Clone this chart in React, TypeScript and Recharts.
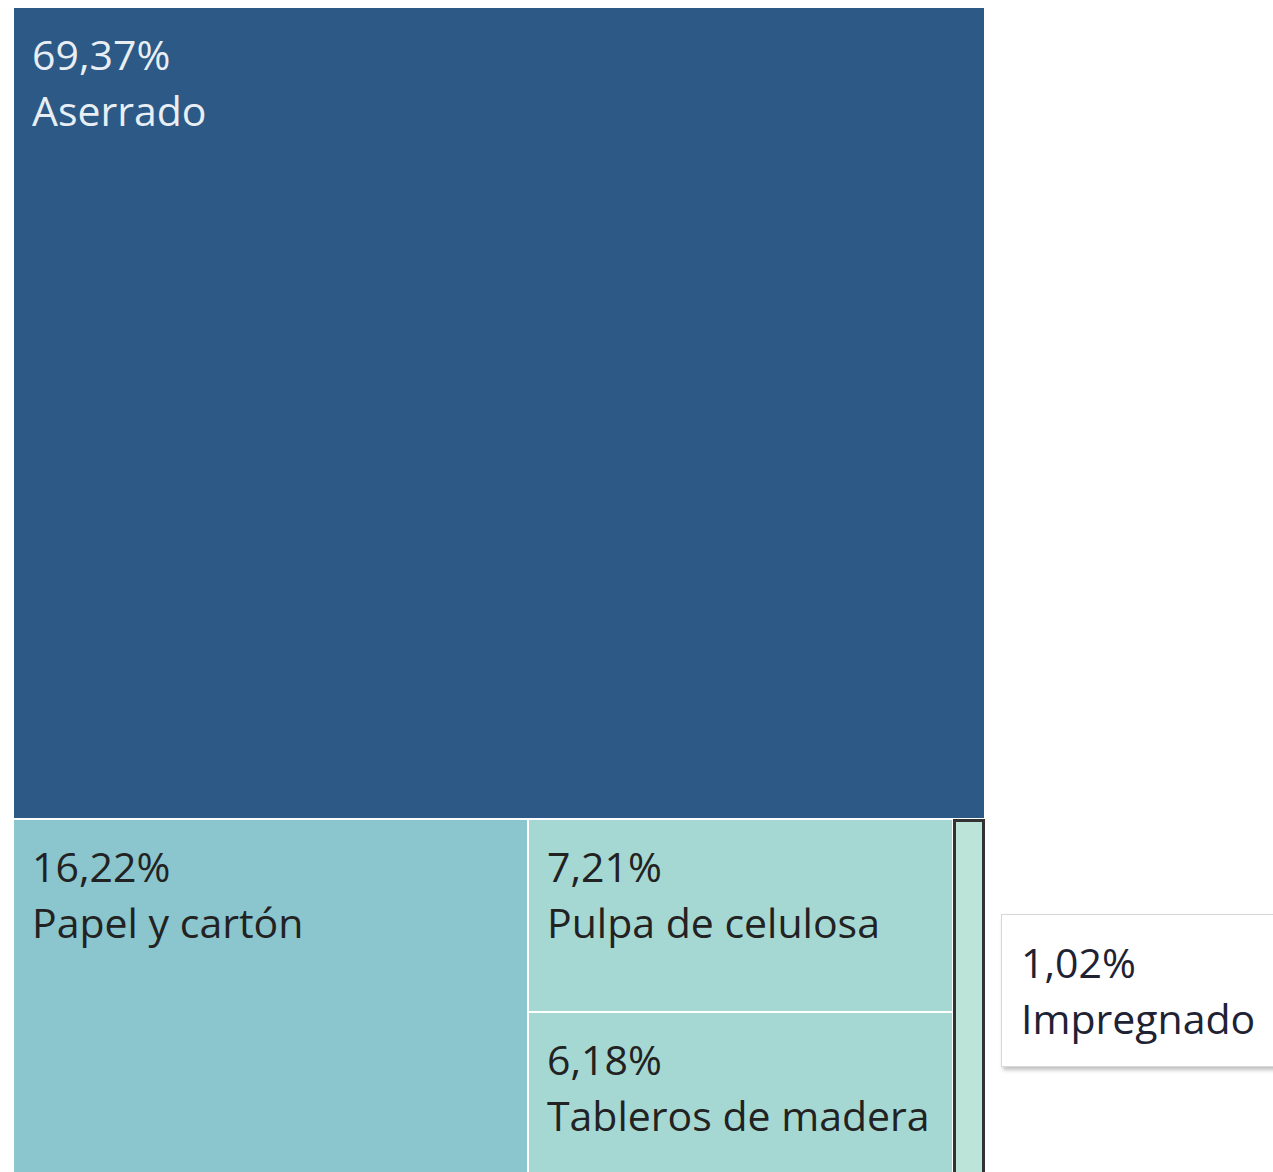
import React from "react";
import { Treemap } from "recharts";

/* ── Data ─────────────────────────────────────────────────────── */

const CATEGORIES = [
  "Aserrado",
  "Papel y cartón",
  "Pulpa de celulosa",
  "Tableros de madera",
  "Impregnado",
];
const SHARES = [69.37, 16.22, 7.21, 6.18, 1.02];

const HOVERED = "Impregnado";

/* ── Styles ───────────────────────────────────────────────────── */

const FILLS: Record<string, string> = {
  Aserrado: "#2c5985",
  "Papel y cartón": "#8bc5cd",
  "Pulpa de celulosa": "#a6d8d3",
  "Tableros de madera": "#a6d8d3",
  Impregnado: "#bde4d9",
};

const FONT = "'Open Sans', 'Noto Sans', sans-serif";
const FONT_SIZE = 41;

const fmt = (v: number) => v.toFixed(2).replace(".", ",") + "%";

const treeData = CATEGORIES.map((name, i) => ({ name, value: SHARES[i] }));

/* ── Cell renderer ────────────────────────────────────────────── */

function Cell(props: any) {
  const { x, y, width, height, name, value, depth } = props;
  if (depth !== 1) return null;
  const hovered = name === HOVERED;
  const textColor = name === "Aserrado" ? "#e8eef4" : "#222222";
  return (
    <g>
      <rect
        x={x}
        y={y}
        width={width}
        height={height}
        fill={FILLS[name] || "#999"}
        stroke="#ffffff"
        strokeWidth={2}
      />
      {hovered && (
        <rect
          x={x + 1.5}
          y={y + 1.5}
          width={width - 3}
          height={height - 3}
          fill="none"
          stroke="#333333"
          strokeWidth={3}
        />
      )}
      {width > 100 && (
        <text
          x={x + 19}
          y={y + 63}
          fill={textColor}
          fontFamily={FONT}
          fontSize={FONT_SIZE}
        >
          <tspan x={x + 19}>{fmt(value)}</tspan>
          <tspan x={x + 19} dy={56}>
            {name}
          </tspan>
        </text>
      )}
    </g>
  );
}

/* ── App ──────────────────────────────────────────────────────── */

export default function App() {
  const hoveredValue = SHARES[CATEGORIES.indexOf(HOVERED)];
  return (
    <div
      style={{
        position: "absolute",
        left: 0,
        top: 0,
        width: 1273,
        height: 1172,
        overflow: "hidden",
        background: "#fff",
      }}
    >
      <div style={{ position: "absolute", left: 13, top: 7 }}>
        <Treemap
          width={972}
          height={1170}
          data={treeData}
          dataKey="value"
          nameKey="name"
          isAnimationActive={false}
          content={<Cell />}
        />
      </div>

      {/* static hover tooltip */}
      <div
        style={{
          position: "absolute",
          left: 1001,
          top: 914,
          width: 300,
          height: 153,
          boxSizing: "border-box",
          background: "#fff",
          border: "1px solid #d8d8d8",
          boxShadow: "2px 3px 4px rgba(0,0,0,0.25)",
          padding: "19px 0 0 19px",
          fontFamily: FONT,
          fontSize: FONT_SIZE,
          lineHeight: "56px",
          color: "#1e2233",
          whiteSpace: "nowrap",
        }}
      >
        <div>{fmt(hoveredValue)}</div>
        <div>{HOVERED}</div>
      </div>
    </div>
  );
}
